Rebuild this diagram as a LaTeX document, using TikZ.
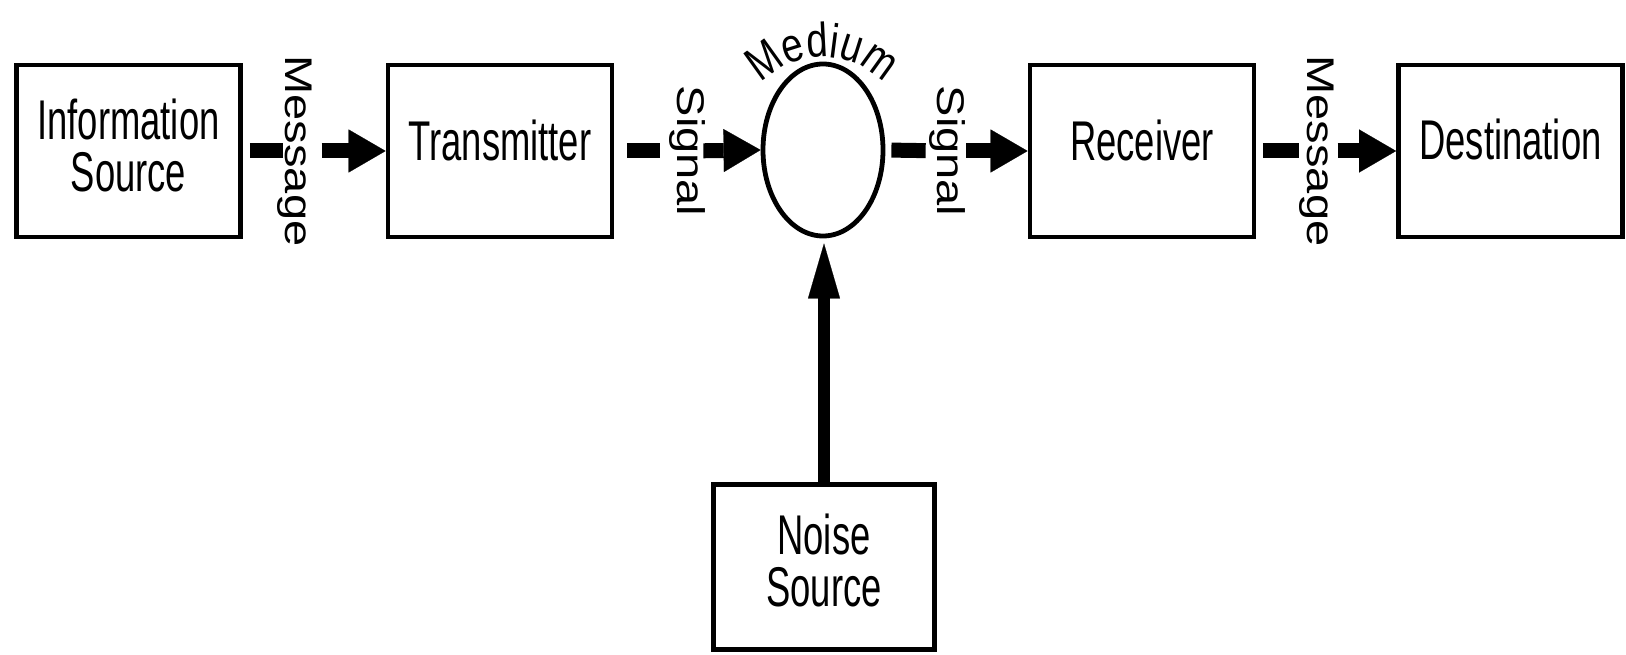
\documentclass[tikz,border=0pt]{standalone}
\usepackage{graphicx}
\usepackage{fontspec}
\setmainfont{Liberation Sans}
\newfontfamily\narrowsans[FakeStretch=0.65]{Liberation Sans}
\newfontfamily\arcsans[FakeStretch=0.8]{Liberation Sans}
\usetikzlibrary{arrows.meta,shapes.geometric,decorations.text}

\tikzset{
  block/.style={draw, line width=2.4pt, minimum width=112pt, minimum height=86pt, inner sep=0pt},
  blocktext/.style={font=\fontsize{28}{26}\narrowsans, align=center, inner sep=0pt},
  chanlabel/.style={rotate=-90, inner sep=0pt, font=\fontsize{23.5}{28}\selectfont},
  bar/.style={line width=7.5pt},
  flow/.style={line width=7.5pt, -{Triangle[length=18.5pt,width=21.5pt,line width=0.1pt]}},
  noiseflow/.style={line width=6pt, -{Triangle[length=27.5pt,width=16pt,line width=0.1pt]}},
}
\newcommand{\squeezed}[1]{\scalebox{1}[0.82]{#1}}

\begin{document}
\begin{tikzpicture}[x=0.5pt,y=0.5pt]
  \path[fill=white, use as bounding box] (0,0) rectangle (1626,654);

  % blocks of the main chain
  \node[block] (info)  at (128.5,503) {};
  \node[block] (trans) at (500,503) {};
  \node[draw, line width=2.4pt, ellipse, minimum width=60pt, minimum height=86pt, inner sep=0pt] (medium) at (823,504) {};
  \node[block] (recv)  at (1142,503) {};
  \node[block] (dest)  at (1510.5,503) {};
  \node[block, minimum width=110.5pt, minimum height=82.5pt] (noise) at (824,87) {};

  % block captions
  \node[blocktext] (infotext)  at ([yshift=2.75pt]info.center)  {Information\\Source};
  \node[blocktext] (transtext) at ([yshift=5.25pt]trans.center) {Transmitter};
  \node[blocktext] (recvtext)  at ([yshift=5.5pt]recv.center)   {Receiver};
  \node[blocktext] (desttext)  at ([yshift=6pt]dest.center)     {Destination};
  \node[blocktext] (noisetext) at ([yshift=3.25pt]noise.center) {Noise\\Source};

  % caption of the channel, bent over the ellipse
  \path[decorate, decoration={text along path, text align=center,
        text={|\fontsize{24}{28}\arcsans|Medium}}]
    (749.3,555) arc[start angle=150, end angle=30, radius=84];

  % labels standing between the blocks
  \node[chanlabel] (msg1) at (295,503)  {\squeezed{Message}};
  \node[chanlabel] (sig1) at (687,503)  {\squeezed{Signal}};
  \node[chanlabel] (sig2) at (947,503)  {\squeezed{Signal}};
  \node[chanlabel] (msg2) at (1317,503) {\squeezed{Message}};

  % connectors: a short bar before each label, an arrow after it
  \draw[bar, shorten <=3.5pt, shorten >=-3pt] (info.east) -- (msg1);
  \draw[flow, shorten <=4.5pt] (msg1) -- (trans.west);

  \draw[bar, shorten <=6.25pt, shorten >=4.5pt] (trans.east) -- (sig1);
  \draw[flow, shorten <=-1pt] (sig1) -- (medium.west);

  \draw[bar, shorten <=3pt, shorten >=1.5pt] (medium.east) -- (sig2);
  \draw[flow, shorten <=0.5pt] (sig2) -- (recv.west);

  \draw[bar, shorten <=3.25pt, shorten >=0pt] (recv.east) -- (msg2);
  \draw[flow, shorten <=1.5pt] (msg2) -- (dest.west);

  \draw[noiseflow, shorten >=2.5pt] (noise.north) -- (noise.north |- medium.south);
\end{tikzpicture}
\end{document}
